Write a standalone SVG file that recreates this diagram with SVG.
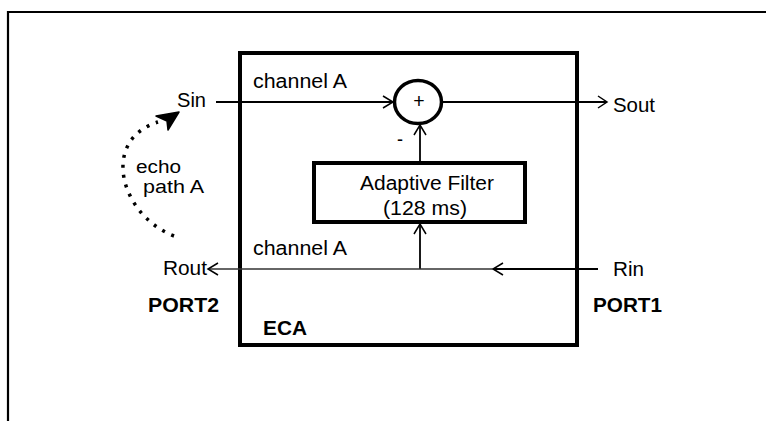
<svg xmlns="http://www.w3.org/2000/svg" width="766" height="421" viewBox="0 0 766 421">
<style>
text{font-family:"Liberation Sans",Arial,sans-serif;font-size:19.5px;fill:#000}
.b{font-weight:bold}
.s{font-size:18px}
.ln{stroke:#000;stroke-width:1.8;fill:none}
.hd{stroke:#000;stroke-width:1.5;fill:none}
.thick{stroke:#000;stroke-width:4;fill:none}
</style>
<rect width="766" height="421" fill="#fff"/>
<g id="frame"><path d="M8,421 V12 H766" stroke="#000" stroke-width="2.2" fill="none"/></g>
<g id="eca"><rect class="thick" x="240" y="53" width="337" height="292"/><text class="b" x="263" y="335" textLength="44" lengthAdjust="spacingAndGlyphs">ECA</text></g>
<g id="sum"><ellipse cx="418" cy="102" rx="23.5" ry="21.5" stroke="#000" stroke-width="3.5" fill="#fff"/><text x="419" y="108" font-size="16" text-anchor="middle">+</text><text x="397" y="146" textLength="6" lengthAdjust="spacingAndGlyphs">-</text></g>
<g id="filter"><rect class="thick" x="314" y="163" width="211" height="59" fill="#fff"/><text x="360" y="190" textLength="134" lengthAdjust="spacingAndGlyphs">Adaptive Filter</text><text x="383" y="215" textLength="84" lengthAdjust="spacingAndGlyphs">(128 ms)</text></g>
<g id="labels">
<text x="177" y="107" textLength="29" lengthAdjust="spacingAndGlyphs">Sin</text>
<text x="613" y="112" textLength="42" lengthAdjust="spacingAndGlyphs">Sout</text>
<text x="613" y="276" textLength="31" lengthAdjust="spacingAndGlyphs">Rin</text>
<text x="163" y="275" textLength="44" lengthAdjust="spacingAndGlyphs">Rout</text>
<text x="253" y="88" textLength="94" lengthAdjust="spacingAndGlyphs">channel A</text>
<text x="253" y="255" textLength="94" lengthAdjust="spacingAndGlyphs">channel A</text>
<text class="b" x="148" y="312" textLength="71" lengthAdjust="spacingAndGlyphs">PORT2</text>
<text class="b" x="593" y="312" textLength="69" lengthAdjust="spacingAndGlyphs">PORT1</text>
<text class="s" x="136" y="173" textLength="45" lengthAdjust="spacingAndGlyphs">echo</text>
<text class="s" x="143" y="193" textLength="61" lengthAdjust="spacingAndGlyphs">path A</text>
</g>
<g id="connectors">
<path class="ln" d="M216,102 H393"/><path class="hd" d="M383,96 L393,102 L383,108"/>
<path class="ln" d="M442,102 H607"/><path class="hd" d="M598,96 L607,102 L598,108"/>
<path class="ln" d="M420,163 V125"/><path class="hd" d="M414,135 L420,125 L426,135"/>
<path class="ln" d="M420,269 V224"/><path class="hd" d="M414,234 L420,224 L426,234"/>
<path class="ln" d="M598,269 H493"/><path class="hd" d="M503,263 L493,269 L503,275"/>
<path stroke="#333" stroke-width="1.5" fill="none" d="M493,269 H208"/><path class="hd" d="M218,263 L208,269 L218,275"/>
<path d="M174,236 C120,215 100,140 158,122" stroke="#000" stroke-width="3.5" stroke-dasharray="3 7" fill="none"/>
<polygon points="179,112 168,130 167,121 156,116" fill="#000" stroke="#000" stroke-width="1.5" stroke-linejoin="round"/>
</g>
</svg>
